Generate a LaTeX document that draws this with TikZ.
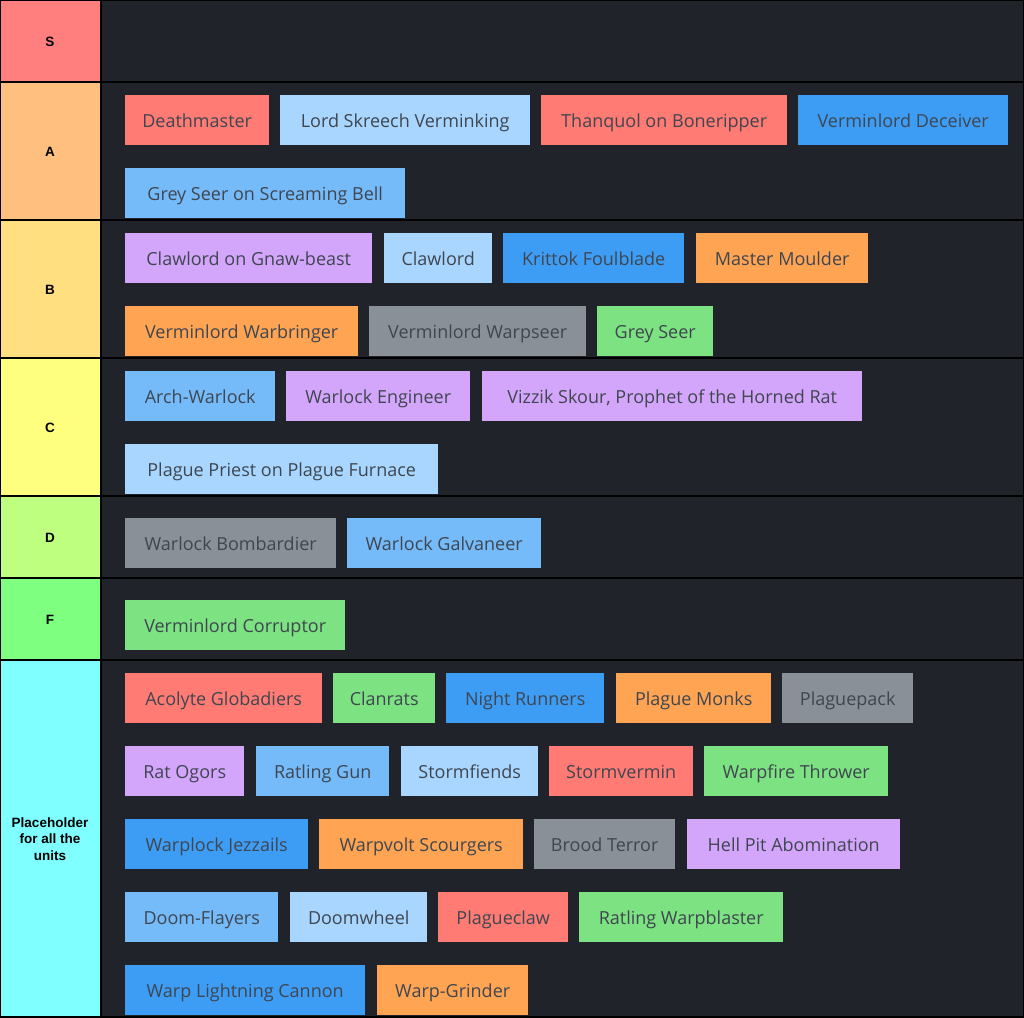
\documentclass[tikz,border=0pt]{standalone}
\usepackage{fontspec}
\setmainfont{Open Sans}
\newfontfamily\labelfont{Liberation Sans}
\definecolor{bgdark}{HTML}{202329}
\definecolor{txtgray}{HTML}{3F4650}
\definecolor{tS}{HTML}{FF7F7F}
\definecolor{tA}{HTML}{FFBF7F}
\definecolor{tB}{HTML}{FFDF7F}
\definecolor{tC}{HTML}{FFFF7F}
\definecolor{tD}{HTML}{BFFF7F}
\definecolor{tF}{HTML}{7FFF7F}
\definecolor{tP}{HTML}{7FFFFF}
\definecolor{cred}{HTML}{FF7B73}
\definecolor{cpale}{HTML}{A9D6FF}
\definecolor{cblue}{HTML}{3D9DF5}
\definecolor{csky}{HTML}{75BBFA}
\definecolor{cpurple}{HTML}{D3A6FC}
\definecolor{corange}{HTML}{FFA453}
\definecolor{cgrey}{HTML}{8A9097}
\definecolor{cgreen}{HTML}{7DE281}
\tikzset{
  unitbox/.style={anchor=west, minimum height=50pt, inner sep=0pt, text=txtgray,
    text height=17pt, text depth=2pt, font=\fontsize{18}{20}\selectfont},
  tierlabel/.style={font=\labelfont\bfseries\fontsize{13.5}{16.5}\selectfont, align=center}
}
% #1 name, #2 left, #3 right, #4 centre y, #5 colour, #6 text
\newcommand{\tierunit}[6]{%
  \pgfmathsetmacro{\uw}{#3-#2}%
  \node[unitbox, fill=#5, minimum width=\uw pt] (#1) at (#2,#4) {#6};}
\begin{document}
\begin{tikzpicture}[x=1pt,y=-1pt]
\useasboundingbox (0,0) rectangle (1024,1017);
\fill[bgdark] (0,0) rectangle (1024,1017);
%tier labels
\fill[tS] (0,0) rectangle (100,81);
\fill[tA] (0,82) rectangle (100,219);
\fill[tB] (0,220) rectangle (100,357);
\fill[tC] (0,358) rectangle (100,495);
\fill[tD] (0,496) rectangle (100,577);
\fill[tF] (0,578) rectangle (100,659);
\fill[tP] (0,660) rectangle (100,1017);
\node[tierlabel] (lS) at (50,42) {S};
\node[tierlabel] (lA) at (50,152) {A};
\node[tierlabel] (lB) at (50,290) {B};
\node[tierlabel] (lC) at (50,428) {C};
\node[tierlabel] (lD) at (50,538) {D};
\node[tierlabel] (lF) at (50,620) {F};
\node[tierlabel] (lP) at (50,839) {Placeholder\\for all the\\units};
%separators
\foreach \y in {81.5,219.5,357.5,495.5,577.5,659.5}
  \draw[black, line width=2pt] (0,\y) -- (1024,\y);
\draw[black, line width=2pt] (101,0) -- (101,1017);
\draw[black, line width=2pt] (0,0) rectangle (1024,1017);
%A
\tierunit{deathmaster}{125}{269}{120}{cred}{Deathmaster}
\tierunit{skreech}{280}{530}{120}{cpale}{Lord Skreech Verminking}
\tierunit{thanquol}{541}{787}{120}{cred}{Thanquol on Boneripper}
\tierunit{deceiver}{798}{1008}{120}{cblue}{Verminlord Deceiver}
\tierunit{bell}{125}{405}{193}{csky}{Grey Seer on Screaming Bell}
%B
\tierunit{gnawbeast}{125}{372}{258}{cpurple}{Clawlord on Gnaw-beast}
\tierunit{clawlord}{384}{492}{258}{cpale}{Clawlord}
\tierunit{krittok}{503}{684}{258}{cblue}{Krittok Foulblade}
\tierunit{moulder}{696}{868}{258}{corange}{Master Moulder}
\tierunit{warbringer}{125}{358}{331}{corange}{Verminlord Warbringer}
\tierunit{warpseer}{369}{586}{331}{cgrey}{Verminlord Warpseer}
\tierunit{greyseer}{597}{713}{331}{cgreen}{Grey Seer}
%C
\tierunit{archwarlock}{125}{275}{396}{csky}{Arch-Warlock}
\tierunit{engineer}{286}{470}{396}{cpurple}{Warlock Engineer}
\tierunit{vizzik}{482}{862}{396}{cpurple}{Vizzik Skour, Prophet of the Horned Rat}
\tierunit{furnace}{125}{438}{469}{cpale}{Plague Priest on Plague Furnace}
%D
\tierunit{bombardier}{125}{336}{543}{cgrey}{Warlock Bombardier}
\tierunit{galvaneer}{347}{541}{543}{csky}{Warlock Galvaneer}
%F
\tierunit{corruptor}{125}{345}{625}{cgreen}{Verminlord Corruptor}
%placeholder
\tierunit{globadiers}{125}{322}{698}{cred}{Acolyte Globadiers}
\tierunit{clanrats}{333}{435}{698}{cgreen}{Clanrats}
\tierunit{runners}{446}{604}{698}{cblue}{Night Runners}
\tierunit{monks}{616}{771}{698}{corange}{Plague Monks}
\tierunit{plaguepack}{782}{913}{698}{cgrey}{Plaguepack}
\tierunit{ogors}{125}{244}{771}{cpurple}{Rat Ogors}
\tierunit{ratlinggun}{256}{389}{771}{csky}{Ratling Gun}
\tierunit{stormfiends}{401}{538}{771}{cpale}{Stormfiends}
\tierunit{stormvermin}{549}{693}{771}{cred}{Stormvermin}
\tierunit{warpfire}{704}{888}{771}{cgreen}{Warpfire Thrower}
\tierunit{jezzails}{125}{308}{844}{cblue}{Warplock Jezzails}
\tierunit{scourgers}{319}{523}{844}{corange}{Warpvolt Scourgers}
\tierunit{broodterror}{534}{675}{844}{cgrey}{Brood Terror}
\tierunit{hellpit}{687}{900}{844}{cpurple}{Hell Pit Abomination}
\tierunit{doomflayers}{125}{278}{917}{csky}{Doom-Flayers}
\tierunit{doomwheel}{290}{427}{917}{cpale}{Doomwheel}
\tierunit{plagueclaw}{438}{568}{917}{cred}{Plagueclaw}
\tierunit{warpblaster}{579}{783}{917}{cgreen}{Ratling Warpblaster}
\tierunit{cannon}{125}{365}{990}{cblue}{Warp Lightning Cannon}
\tierunit{grinder}{377}{528}{990}{corange}{Warp-Grinder}
\end{tikzpicture}
\end{document}
